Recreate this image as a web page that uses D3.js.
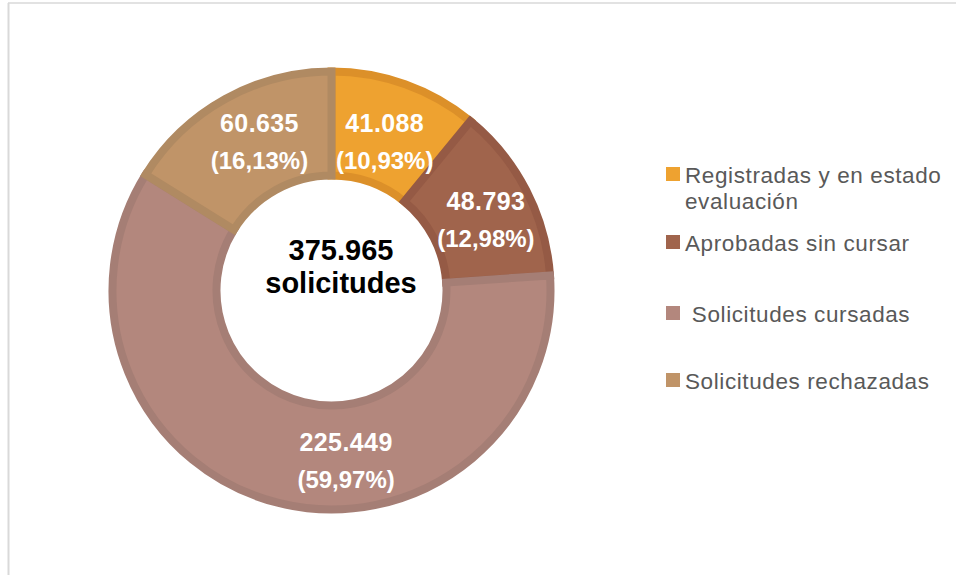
<!DOCTYPE html>
<html>
<head>
<meta charset="utf-8">
<script src="https://cdn.jsdelivr.net/npm/d3@7"></script>
<style>
  body { margin: 0; background: #fff; }
  svg { display: block; font-family: "Liberation Sans", Arial, sans-serif; }
</style>
</head>
<body>
<svg id="chart" width="956" height="575"></svg>
<script>
// data
var categories = ["Registradas y en estado evaluación", "Aprobadas sin cursar", " Solicitudes cursadas", "Solicitudes rechazadas"]
var values = [41088, 48793, 225449, 60635]
var fills = ["#eea230", "#a0644c", "#b3877d", "#c09468"]
var strokes = ["#dc9029", "#955a45", "#a57e75", "#b08a62"]
var centerLabel = ["375.965", "solicitudes"]

var svg = d3.select("#chart")
var cx = 331.5, cy = 290.5
var total = d3.sum(values)

var es = d3.formatLocale({decimal: ",", thousands: ".", grouping: [3], currency: ["", ""]})
var fmtNum = es.format(",d")
var fmtPct = es.format(".2%")

// frame lines (top + left)
svg.append("line").attr("x1", 8).attr("y1", 3).attr("x2", 956).attr("y2", 3)
  .attr("stroke", "#d9d9d9").attr("stroke-width", 1.5)
svg.append("line").attr("x1", 8.5).attr("y1", 3).attr("x2", 8.5).attr("y2", 575)
  .attr("stroke", "#d9d9d9").attr("stroke-width", 2)

var pie = d3.pie().sort(null).value(function(d){ return d })
var arcs = pie(values)

var arc = d3.arc().innerRadius(115).outerRadius(219)
var labelArc = d3.arc().innerRadius(111).outerRadius(223)

var g = svg.append("g").attr("transform", "translate(" + cx + "," + cy + ")")

g.selectAll("path.slice")
  .data(arcs)
  .enter()
  .append("path")
  .attr("class", "slice")
  .attr("d", arc)
  .style("fill", function(d, i){ return fills[i] })
  .style("stroke", function(d, i){ return strokes[i] })
  .style("stroke-width", 8)
  .style("stroke-linejoin", "miter")

// label nudges from the arc centroid (layout only)
var nudge = [[-3, 9], [6, 6], [55, 8], [9, -2]]

var lbl = g.selectAll("g.lbl")
  .data(arcs)
  .enter()
  .append("g")
  .attr("class", "lbl")
  .attr("transform", function(d, i){
    var c = labelArc.centroid(d)
    return "translate(" + (c[0] + nudge[i][0]) + "," + (c[1] + nudge[i][1]) + ")"
  })

lbl.append("text")
  .attr("text-anchor", "middle")
  .attr("y", -10)
  .style("font-size", "25px")
  .style("font-weight", "bold")
  .style("letter-spacing", "0.4px")
  .style("fill", "#fff")
  .text(function(d){ return fmtNum(d.value) })

lbl.append("text")
  .attr("text-anchor", "middle")
  .attr("y", 27)
  .style("font-size", "24px")
  .style("font-weight", "bold")
  .style("fill", "#fff")
  .text(function(d){ return "(" + fmtPct(d.value / total) + ")" })

// center text
svg.selectAll("text.center")
  .data(centerLabel)
  .enter()
  .append("text")
  .attr("class", "center")
  .attr("x", 341)
  .attr("y", function(d, i){ return 260 + i * 33 })
  .attr("text-anchor", "middle")
  .style("font-size", "29px")
  .style("font-weight", "bold")
  .style("fill", "#000")
  .text(function(d){ return d })

// legend
var legendRows = [[183, 209], [251], [322], [389]]
var leg = svg.selectAll("g.leg")
  .data(categories)
  .enter()
  .append("g")
  .attr("class", "leg")

leg.append("rect")
  .attr("x", 666)
  .attr("y", function(d, i){ return legendRows[i][0] - 16 })
  .attr("width", 14)
  .attr("height", 14)
  .style("fill", function(d, i){ return fills[i] })

leg.each(function(d, i){
  var words = i == 0 ? ["Registradas y en estado", "evaluación"] : [d]
  var t = d3.select(this).append("text")
    .attr("x", 685)
    .style("font-size", "22.5px")
    .style("letter-spacing", "0.6px")
    .style("fill", "#595959")
    .style("white-space", "pre")
  words.forEach(function(w, j){
    t.append("tspan").attr("x", 685).attr("y", legendRows[i][j]).text(w)
  })
})
</script>
</body>
</html>
